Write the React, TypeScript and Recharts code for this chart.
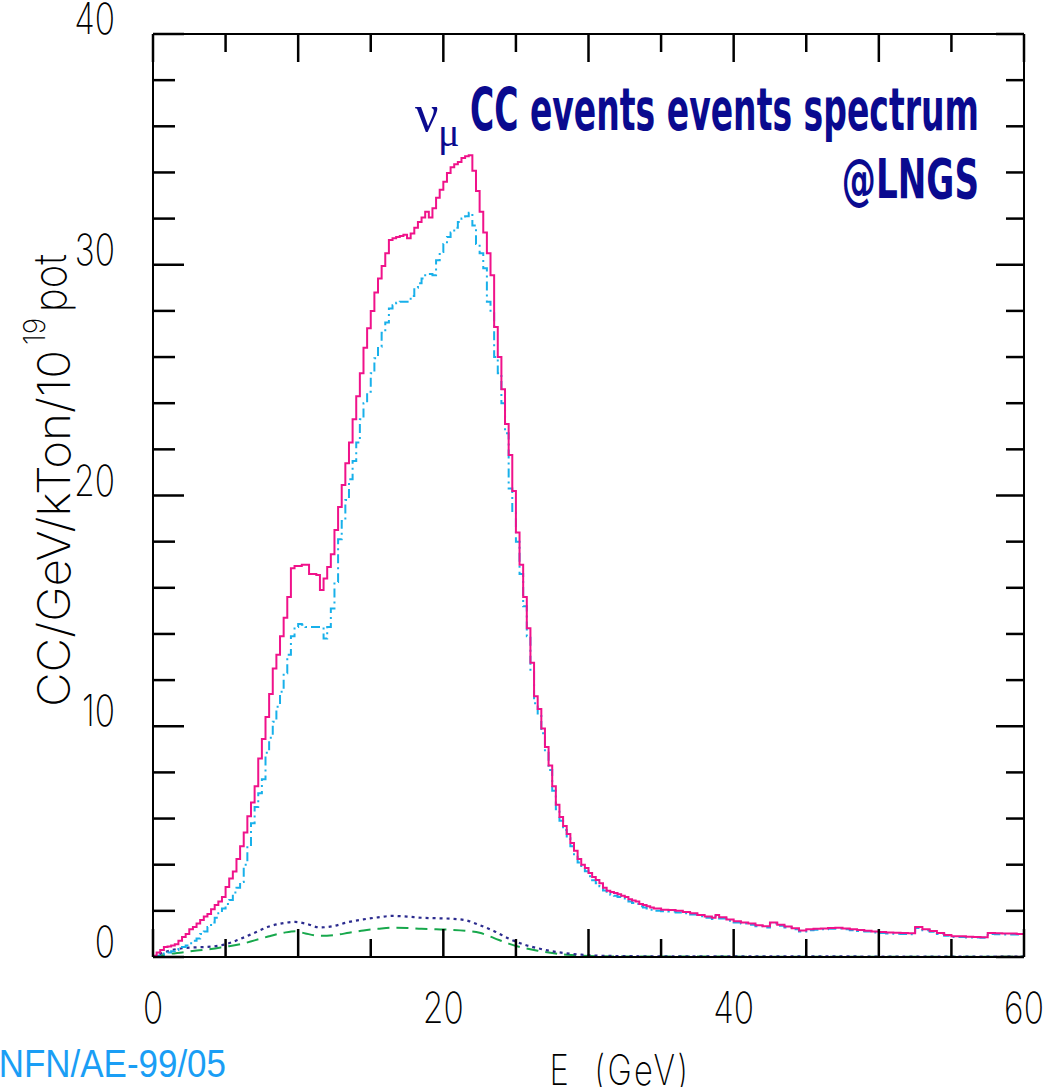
import React from 'react';
import { LineChart, Line, XAxis, YAxis } from 'recharts';

// Bin lower edges (GeV) shared by the two histograms
const histEdges = [
  0, 0.25, 0.5, 0.75, 1, 1.25, 1.5, 1.75, 2, 2.25, 2.5, 2.75, 3, 3.25, 3.5, 3.75,
  4, 4.25, 4.5, 4.75, 5, 5.25, 5.5, 5.75, 6, 6.25, 6.5, 6.75, 7, 7.25, 7.5, 7.75,
  8, 8.25, 8.5, 8.75, 9, 9.25, 9.5, 9.75, 10, 10.25, 10.5, 10.75, 11, 11.25, 11.5, 11.75,
  12, 12.25, 12.5, 12.75, 13, 13.25, 13.5, 13.75, 14, 14.25, 14.5, 14.75, 15, 15.25, 15.5, 15.75,
  16, 16.25, 16.5, 16.75, 17, 17.25, 17.5, 17.75, 18, 18.25, 18.5, 18.75, 19, 19.25, 19.5, 19.75,
  20, 20.25, 20.5, 20.75, 21, 21.25, 21.5, 21.75, 22, 22.25, 22.5, 22.75, 23, 23.25, 23.5, 23.75,
  24, 24.25, 24.5, 24.75, 25, 25.25, 25.5, 25.75, 26, 26.25, 26.5, 26.75, 27, 27.25, 27.5, 27.75,
  28, 28.25, 28.5, 28.75, 29, 29.25, 29.5, 29.75, 30, 30.25, 30.5, 30.75, 31, 31.25, 31.5, 31.75,
  32, 32.25, 32.5, 32.75, 33, 33.25, 33.5, 33.75, 34, 34.25, 34.5,
  35, 35.5, 36, 36.5, 37, 37.5, 38, 38.5, 38.75, 39, 39.5, 40, 40.5, 41, 41.5, 42, 42.5,
  43, 43.5, 44, 44.5, 45, 45.5, 46, 46.5, 47, 47.5, 48, 48.5, 49, 49.5, 50, 50.5, 51, 51.5,
  52, 52.5, 53, 53.5, 54, 54.5, 55, 55.5, 56, 56.5, 57, 57.5, 58, 58.5, 59, 59.5, 60,
];

// Total CC spectrum (solid magenta)
const totalCC = [
  0.05, 0.2, 0.3, 0.43, 0.45, 0.5, 0.55, 0.7, 0.87, 1.0, 1.2, 1.3, 1.45, 1.6, 1.75, 1.86,
  2.07, 2.25, 2.4, 2.6, 3.03, 3.4, 3.7, 4.25, 4.8, 5.4, 6.1, 6.7, 7.4, 8.6, 9.45, 10.4,
  11.4, 12.5, 13.1, 13.9, 14.7, 15.6, 16.85, 16.95, 16.95, 17.0, 17.0, 16.6, 16.6, 16.55, 15.9, 16.4,
  16.9, 17.45, 18.5, 19.5, 20.45, 21.4, 22.3, 23.3, 24.3, 25.3, 26.4, 27.25, 28.0, 28.8, 29.4, 29.95,
  30.5, 31.07, 31.15, 31.2, 31.25, 31.3, 31.15, 31.35, 31.6, 31.85, 32.05, 32.3, 32.05, 32.45, 32.9, 33.25,
  33.6, 33.98, 34.23, 34.36, 34.45, 34.63, 34.7, 34.75, 34.07, 33.2, 32.3, 31.4, 30.5, 29.55, 27.3, 26.0,
  24.6, 23.1, 21.75, 20.2, 18.4, 17.0, 15.6, 14.25, 12.75, 11.3, 10.75, 9.9, 9.1, 8.3, 7.4, 6.6,
  6.07, 5.68, 5.33, 4.94, 4.6, 4.25, 4.0, 3.86, 3.64, 3.47, 3.34, 3.2, 3.0, 2.87, 2.82, 2.77,
  2.72, 2.65, 2.6, 2.5, 2.45, 2.4, 2.3, 2.25, 2.2, 2.15, 2.1,
  2.05, 2.04, 2.0, 1.95, 1.9, 1.82, 1.75, 1.7, 1.82, 1.72, 1.62, 1.55, 1.5, 1.45, 1.38, 1.33, 1.5,
  1.4, 1.32, 1.25, 1.15, 1.2, 1.22, 1.24, 1.26, 1.27, 1.24, 1.2, 1.17, 1.14, 1.1, 1.08, 1.06, 1.05, 1.04,
  1.03, 1.3, 1.2, 1.13, 1.04, 0.95, 0.9, 0.9, 0.88, 0.87, 0.86, 1.04, 1.03, 1.02, 1.02, 1.0, 1.0,
];

// numu CC component (cyan dash-dot)
const numuCC = [
  0, 0.05, 0.1, 0.15, 0.2, 0.25, 0.3, 0.35, 0.43, 0.5, 0.6, 0.7, 0.8, 1.0, 1.1, 1.3,
  1.5, 1.7, 1.9, 2.1, 2.3, 2.47, 2.8, 3.0, 3.25, 4.0, 4.8, 5.8, 6.5, 7.1, 7.7, 8.85,
  9.5, 10.2, 10.85, 11.5, 12.3, 13.1, 13.9, 14.3, 14.43, 14.4, 14.3, 14.3, 14.3, 14.3, 14.3, 13.8,
  14.3, 15.1, 16.25, 18.1, 18.9, 19.8, 20.7, 21.5, 22.3, 23.3, 24.0, 24.5, 25.3, 25.95, 26.45, 27.05,
  27.5, 28.1, 28.25, 28.35, 28.4, 28.4, 28.4, 28.65, 29.0, 29.2, 29.4, 29.6, 29.6, 29.55, 30.2, 30.55,
  30.9, 31.2, 31.4, 31.6, 31.85, 32.0, 32.1, 32.25, 31.7, 30.9, 30.5, 29.85, 28.4, 27.9, 26.0, 25.3,
  24.0, 22.7, 20.3, 19.25, 18.0, 16.6, 15.2, 13.9, 12.4, 11.0, 10.5, 9.7, 8.9, 8.1, 7.2, 6.4,
  5.9, 5.5, 5.15, 4.8, 4.45, 4.1, 3.85, 3.72, 3.5, 3.33, 3.2, 3.07, 2.88, 2.76, 2.7, 2.65,
  2.6, 2.54, 2.48, 2.4, 2.34, 2.3, 2.2, 2.15, 2.1, 2.05, 2.0,
  1.98, 1.97, 1.93, 1.9, 1.84, 1.77, 1.7, 1.65, 1.77, 1.67, 1.57, 1.5, 1.45, 1.4, 1.33, 1.28, 1.45,
  1.35, 1.28, 1.2, 1.1, 1.16, 1.18, 1.2, 1.22, 1.23, 1.2, 1.16, 1.13, 1.1, 1.06, 1.04, 1.02, 1.01, 1.0,
  0.99, 1.26, 1.16, 1.09, 1.0, 0.92, 0.87, 0.87, 0.85, 0.84, 0.83, 1.0, 0.99, 0.98, 0.98, 0.97, 0.97,
];

// Smooth components
const dottedE = [0, 1, 2, 3, 4, 5, 6, 7, 8, 9, 9.8, 10.5, 11.5, 12.5, 13.5, 14.5, 15.5, 16.5, 17.5, 18.5, 19.5, 20.5, 21.5, 22.5, 23.5, 24.5, 25.5, 26.5, 27.5, 28.5, 29.5, 31, 35, 60];
const dottedV = [0, 0.25, 0.38, 0.42, 0.45, 0.55, 0.78, 1.05, 1.32, 1.47, 1.52, 1.45, 1.28, 1.35, 1.52, 1.63, 1.72, 1.78, 1.75, 1.7, 1.68, 1.66, 1.6, 1.38, 1.12, 0.8, 0.55, 0.38, 0.25, 0.16, 0.1, 0.05, 0.03, 0.02];
const dashedE = [0, 1, 2, 3, 4, 5, 6, 7, 8, 9, 9.8, 10.5, 11.5, 12.5, 13.5, 14.5, 15.5, 16.5, 17.5, 18.5, 19.5, 20.5, 21.5, 22.5, 23.5, 24.5, 25.5, 26.5, 27.5, 28.5, 29.5, 31, 35, 60];
const dashedV = [0, 0.12, 0.2, 0.28, 0.35, 0.45, 0.55, 0.72, 0.9, 1.05, 1.12, 1.02, 0.92, 0.95, 1.05, 1.15, 1.22, 1.27, 1.26, 1.22, 1.2, 1.18, 1.14, 1.05, 0.82, 0.58, 0.4, 0.27, 0.17, 0.1, 0.06, 0.03, 0.02, 0.01];

const xTicks = [0, 5, 10, 15, 20, 25, 30, 35, 40, 45, 50, 55, 60];
const xLabels = [0, 20, 40, 60];
const yTicks = [0, 2, 4, 6, 8, 10, 12, 14, 16, 18, 20, 22, 24, 26, 28, 30, 32, 34, 36, 38, 40];
const yLabels = [0, 10, 20, 30, 40];

const totalData = histEdges.map((e, i) => ({ e, v: totalCC[i] }));
const numuData = histEdges.map((e, i) => ({ e, v: numuCC[i] }));
const dottedData = dottedE.map((e, i) => ({ e, v: dottedV[i] }));
const dashedData = dashedE.map((e, i) => ({ e, v: dashedV[i] }));

const W = 1059;
const H = 1087;
const thinFont = "Inter, 'DejaVu Sans', sans-serif";
const navy = '#0a0a8f';

const labelText = (x: number, y: number, s: string | number, anchor: string) => (
  <text
    transform={`translate(${x},${y}) scale(0.78,1)`}
    textAnchor={anchor}
    fontSize={43}
    fontFamily={thinFont}
    fontWeight={200}
    fill="#000"
  >
    {s}
  </text>
);

const BottomTick = (props: any) => {
  const { x, y, payload } = props;
  const v = payload.value;
  const len = v % 10 === 0 ? 28 : 18;
  return (
    <g>
      <line x1={x} y1={y} x2={x} y2={y - len} stroke="#000" strokeWidth={2.5} />
      {xLabels.includes(v) ? labelText(x, y + 66, v, 'middle') : null}
    </g>
  );
};

const TopTick = (props: any) => {
  const { x, y, payload } = props;
  const v = payload.value;
  const len = v % 10 === 0 ? 28 : 18;
  return <line x1={x} y1={y} x2={x} y2={y + len} stroke="#000" strokeWidth={2.5} />;
};

const LeftTick = (props: any) => {
  const { x, y, payload } = props;
  const v = payload.value;
  const len = v % 10 === 0 ? 31 : 22;
  return (
    <g>
      <line x1={x} y1={y} x2={x + len} y2={y} stroke="#000" strokeWidth={2.5} />
      {yLabels.includes(v) ? labelText(x - 38, y, v, 'end') : null}
    </g>
  );
};

const RightTick = (props: any) => {
  const { x, y, payload } = props;
  const v = payload.value;
  const len = v % 10 === 0 ? 28 : 18;
  return <line x1={x} y1={y} x2={x - len} y2={y} stroke="#000" strokeWidth={2.5} />;
};

export default function App() {
  return (
    <div style={{ position: 'absolute', left: 0, top: 0, width: W, height: H, background: '#fff', overflow: 'hidden' }}>
      <LineChart width={W} height={H} margin={{ top: 24, right: 25, bottom: 70, left: 93 }}>
        <XAxis
          xAxisId="bottom"
          dataKey="e"
          type="number"
          domain={[0, 60]}
          allowDataOverflow
          ticks={xTicks}
          interval={0}
          height={60}
          tickSize={0}
          tickMargin={0}
          tickLine={false}
          axisLine={{ stroke: '#000', strokeWidth: 2 }}
          tick={BottomTick}
        />
        <XAxis
          xAxisId="top"
          orientation="top"
          dataKey="e"
          type="number"
          domain={[0, 60]}
          allowDataOverflow
          ticks={xTicks}
          interval={0}
          height={10}
          tickSize={0}
          tickMargin={0}
          tickLine={false}
          axisLine={{ stroke: '#000', strokeWidth: 2 }}
          tick={TopTick}
        />
        <YAxis
          yAxisId="left"
          type="number"
          domain={[0, 40]}
          allowDataOverflow
          ticks={yTicks}
          interval={0}
          width={60}
          tickSize={0}
          tickMargin={0}
          tickLine={false}
          axisLine={{ stroke: '#000', strokeWidth: 2 }}
          tick={LeftTick}
        />
        <YAxis
          yAxisId="right"
          orientation="right"
          type="number"
          domain={[0, 40]}
          allowDataOverflow
          ticks={yTicks}
          interval={0}
          width={10}
          tickSize={0}
          tickMargin={0}
          tickLine={false}
          axisLine={{ stroke: '#000', strokeWidth: 2 }}
          tick={RightTick}
        />
        <Line
          xAxisId="top"
          yAxisId="right"
          data={totalData}
          dataKey="v"
          stroke="none"
          dot={false}
          activeDot={false}
          isAnimationActive={false}
        />
        <Line
          xAxisId="bottom"
          yAxisId="left"
          data={dashedData}
          dataKey="v"
          type="monotone"
          stroke="#17a84c"
          strokeWidth={2}
          strokeDasharray="12 7"
          dot={false}
          activeDot={false}
          isAnimationActive={false}
        />
        <Line
          xAxisId="bottom"
          yAxisId="left"
          data={dottedData}
          dataKey="v"
          type="monotone"
          stroke="#2b2b8e"
          strokeWidth={2.2}
          strokeDasharray="3 4"
          dot={false}
          activeDot={false}
          isAnimationActive={false}
        />
        <Line
          xAxisId="bottom"
          yAxisId="left"
          data={numuData}
          dataKey="v"
          type="stepAfter"
          stroke="#18b0ea"
          strokeWidth={2}
          strokeDasharray="9 4 2 4"
          dot={false}
          activeDot={false}
          isAnimationActive={false}
        />
        <Line
          xAxisId="bottom"
          yAxisId="left"
          data={totalData}
          dataKey="v"
          type="stepAfter"
          stroke="#f0128a"
          strokeWidth={2}
          dot={false}
          activeDot={false}
          isAnimationActive={false}
        />
      </LineChart>
      <svg
        width={W}
        height={H}
        style={{ position: 'absolute', left: 0, top: 0, pointerEvents: 'none' }}
      >
        <text x={415} y={131} fontFamily="'Liberation Serif', serif" fontSize={52} fill={navy}>ν</text>
        <text x={438} y={146} fontFamily="'Liberation Serif', serif" fontSize={40} fill={navy}>μ</text>
        <text
          transform="translate(979,130) scale(0.57,1)"
          textAnchor="end"
          fontFamily="'DejaVu Sans', sans-serif"
          fontWeight="bold"
          fontSize={58}
          fill={navy}
        >
          CC events events spectrum
        </text>
        <text
          transform="translate(979,198) scale(0.61,1)"
          textAnchor="end"
          fontFamily="'DejaVu Sans', sans-serif"
          fontWeight="bold"
          fontSize={56}
          fill={navy}
        >
          @LNGS
        </text>
        <g transform="translate(70,707) rotate(-90)">
          <text x={0} y={0} fontFamily={thinFont} fontWeight={200} fontSize={45} textLength={357} lengthAdjust="spacingAndGlyphs" fill="#000">
            CC/GeV/kTon/10
          </text>
          <text x={362} y={-25} fontFamily={thinFont} fontWeight={200} fontSize={30} textLength={27} lengthAdjust="spacingAndGlyphs" fill="#000">
            19
          </text>
          <text x={395} y={-4} fontFamily={thinFont} fontWeight={200} fontSize={45} textLength={58} lengthAdjust="spacingAndGlyphs" fill="#000">
            pot
          </text>
        </g>
        <text
          transform="translate(620,1085) scale(0.78,1)"
          textAnchor="middle"
          fontFamily={thinFont}
          fontWeight={200}
          fontSize={42}
          letterSpacing={3}
          style={{ whiteSpace: 'pre' }}
          fill="#000"
        >
          {'E  (GeV)'}
        </text>
        <text
          x={-11}
          y={1077}
          fontFamily="'Liberation Sans', Arial, sans-serif"
          fontSize={39}
          textLength={237}
          lengthAdjust="spacingAndGlyphs"
          fill="#1a9ef5"
        >
          INFN/AE-99/05
        </text>
      </svg>
    </div>
  );
}
